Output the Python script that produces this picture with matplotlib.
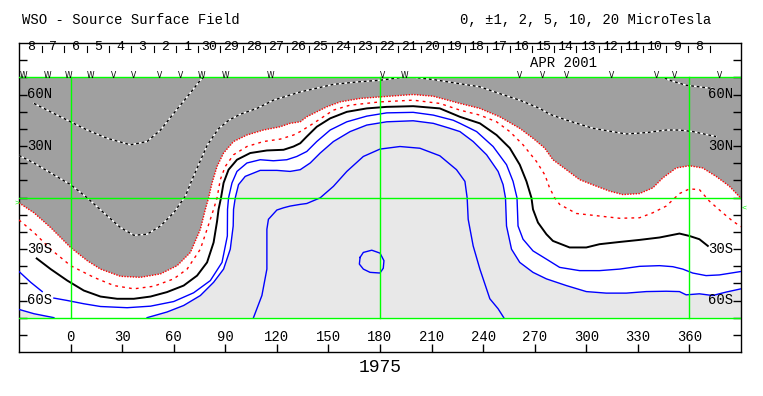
import matplotlib
matplotlib.use("Agg")
import matplotlib.pyplot as plt
from matplotlib.patches import Rectangle, Polygon

# ---------------- data (longitude, latitude) ----------------
# contour -2 uT : boundary of the dark grey (negative) region
neg2 = [(-30, -3.1), (-21.3, -8.9), (-11.6, -17.5), (0, -29.1), (9.7, -36.8), (17.4, -41.7),
        (29.0, -45.9), (40.6, -46.5), (52.3, -44.5), (62, -39.7), (69.7, -32), (75.5, -18.5),
        (78.4, -6.9), (80.3, -0.2), (82.3, 8.5), (85.2, 18.1), (89, 25.9), (94.8, 32.6),
        (102.6, 36.4), (112.2, 39.3), (121.9, 41.2), (127.7, 43.2), (133.6, 44.1), (137.4, 47),
        (149, 52.8), (156.8, 55.7), (168.4, 57.7), (180, 58.6), (199.3, 60), (211, 59),
        (226.5, 54.8), (238.1, 51.9), (249.7, 47), (261.3, 40.3), (269, 34.5), (275.8, 28.8),
        (280.6, 22), (288.4, 16.2), (296.1, 10.4), (305.8, 6.6), (313.6, 3.7), (321.3, 1.7),
        (331, 2.3), (338.7, 5.6), (344.5, 11.4), (352.3, 17.2), (360, 18.5), (367.7, 17.2),
        (375.5, 12.3), (383.2, 6.6), (390, -0.5)]

# contour -1 uT
neg1 = [(-30, -13.1), (-21.3, -20.4), (-11.6, -30.1), (0, -39.7), (13.5, -46.5), (25.2, -51.3),
        (36.8, -53.2), (48.4, -51.7), (60, -47.4), (67.8, -41.7), (75.5, -30.1), (79.4, -18.5),
        (83.2, -6.9), (85.2, -0.2), (87.1, 10.4), (90, 18.1), (94.8, 24.9), (102.6, 29.7),
        (112.2, 32.6), (121.9, 34), (129.7, 36.4), (133.6, 38.4), (141.3, 43.2), (152.9, 50.9),
        (162.6, 53.8), (180, 55.7), (199.3, 56.7), (214.8, 54.8), (226.5, 50.9), (238.1, 48),
        (247.8, 44.1), (255.5, 38.4), (263.2, 30.7), (271, 21), (276, 13), (278.5, 6),
        (281.5, 0), (284.5, -4), (294.2, -9.3), (307.7, -10.8), (319.4, -12.1), (331, -11.8),
        (338.7, -8.9), (346.5, -5), (354.2, 2.3), (360, 5), (365.8, 4.6), (371.6, -2.1),
        (379.3, -8.9), (385.1, -13.7), (390, -17)]

# neutral line (0 uT)
zero = [(-19.7, -35.5), (-11.6, -41.7), (-1.9, -48.4), (7.7, -54.2), (17.4, -57.7), (27.1, -59),
        (36.8, -59), (46.5, -57.7), (56.1, -55.1), (65.8, -51.3), (73.6, -45.5), (79.4, -37.8),
        (83.2, -26.2), (85.2, -14), (86.1, -6.9), (87.5, -0.2), (89, 8.5), (91.9, 16.2),
        (96.8, 22), (104.5, 25.9), (114.2, 27.4), (123.9, 27.8), (129.7, 29.7), (133.6, 31.6),
        (137.4, 35.5), (143.2, 41.2), (151, 46.1), (160.7, 49.9), (172.3, 51.9), (183.9, 52.8),
        (199.3, 53.2), (214.8, 51.9), (226.5, 47), (238.1, 43.2), (247.8, 36.4), (255.5, 28.8),
        (261.3, 19.1), (265.2, 9.4), (268.1, -0.2), (269, -6.9), (271.9, -14.6), (276.8, -21.4),
        (280.6, -25.3), (290.3, -29.1), (300, -29.1), (307.7, -27.2), (319.4, -25.9),
        (331, -24.7), (342.6, -23.3), (354.2, -21), (360, -22.4), (365.8, -24.3), (370.7, -28.2)]

# contour +1 uT (two visible pieces)
pos1_a = [(-30, -43.1), (-23.2, -49.4), (-16.5, -54.8)]
pos1_b = [(-9.7, -58.6), (-1.9, -60), (7.7, -61.9), (17.4, -63.5), (32.9, -64.2), (46.5, -63.3),
          (60, -60.6), (71.6, -55.5), (81.3, -48.4), (88.1, -37.8), (91.2, -22.4), (91.3, -6.9),
          (91.9, -0.2), (93.9, 8.5), (96.8, 15.2), (102.6, 20.1), (110.3, 22), (118, 21.4),
          (125.8, 22), (131.6, 23.9), (137.4, 26.8), (143.2, 32.6), (151, 39.3), (160.7, 44.1),
          (172.3, 47.4), (183.9, 49.3), (199.3, 49.6), (211, 48), (222.6, 45), (226.5, 43.2),
          (236.2, 38.4), (245.8, 29.7), (253.6, 19.1), (257.4, 9.4), (259.7, -0.2),
          (260.3, -16.6), (263.2, -24.3), (269, -31.1), (276.8, -35.9), (284.5, -40.7),
          (296.1, -42.6), (307.7, -42.6), (319.4, -41.7), (331, -40.1), (342.6, -39.7),
          (350.3, -40.3), (356.1, -41.7), (361.9, -44), (369.7, -45.5), (377.4, -45.1), (390, -43.1)]

# contour +2 uT : boundary of the light grey (positive) region
pos2_a = [(-30, -65.2), (-21.3, -67.7), (-9.7, -70)]
pos2_b = [(44.5, -70), (56.1, -66.7), (65.8, -62.9), (75.5, -57.1), (83.2, -49.4), (89, -41.7),
          (92.9, -30.1), (94.6, -16.6), (94.8, -6.9), (95.8, -0.2), (97.7, 7.5), (101.6, 12.3),
          (110.3, 15.8), (120, 15.8), (127.7, 15.2), (133.6, 16.2), (139.4, 20.1), (145.2, 25.9),
          (152.9, 32.6), (162.6, 38.4), (172.3, 42.2), (183.9, 44.1), (199.3, 44.7), (211, 43.2),
          (220, 40.5), (226.5, 38.4), (234.2, 32.6), (242, 24.9), (248.7, 15.2), (251.6, 7.5),
          (253, -0.2), (253.6, -16.6), (256.5, -30.1), (261.3, -37.8), (269, -43.6),
          (276.8, -47.4), (288.4, -51.3), (300, -54.8), (311.6, -55.7), (323.3, -55.7),
          (334.9, -54.8), (346.5, -54.6), (354.2, -54.8), (358.1, -56.7), (365.8, -56.1),
          (373.5, -57.1), (381.3, -55.1), (390, -53.2)]

# contour +5 uT
pos5 = [(106.4, -70), (111.3, -57.1), (114.2, -41.7), (114.2, -18.5), (115.1, -12.7), (120, -7.3),
        (123.9, -6), (127.7, -5), (133.6, -4), (137.4, -3.5), (145.2, -0.2), (152.9, 6.5),
        (160.7, 15.2), (170.3, 23.9), (180, 28.2), (191.6, 29.7), (203.2, 28.7), (214.8, 24.3),
        (224.5, 16.2), (229.4, 9.4), (230.7, -0.2), (231.3, -12.7), (234.2, -28.2),
        (238.1, -41.7), (243.9, -59), (248.7, -64.8), (252, -70)]

# contour +10 uT (small closed loop)
pos10 = [(168.4, -34.9), (170.3, -32), (175.2, -30.7), (180, -32.4), (182.3, -36.8),
         (181.9, -41.2), (180, -44), (174.2, -43.6), (170.3, -41.7), (168, -38.8), (168.4, -34.9)]

# contour -5 uT
neg5 = [(-30, 24.5), (-21.3, 20.1), (-11.6, 14.3), (0, 7.5), (9.7, -0.2), (19.3, -8.9),
        (29, -17.5), (36.8, -22), (44.5, -21.4), (52.3, -16.6), (60, -8.9), (66.8, 0.8),
        (70.5, 10), (74, 18), (79.5, 30.5), (86, 40), (92, 45), (98.7, 48.5), (108.4, 51.9),
        (118, 56.7), (133.6, 61.5), (152.9, 65.9), (166.5, 67.3), (180, 68.3), (195.5, 70.3),
        (198, 71.5), (201.3, 69.8), (211, 68.7), (225, 66.5), (238, 64.5), (249.7, 60.5),
        (261.3, 56.7), (272.9, 51.9), (278.7, 48.5), (288.4, 45.1), (303.9, 40.3), (323.3, 37),
        (334.9, 37.8), (346.5, 39.3), (354.2, 39.3), (361.9, 38.4), (375.5, 35.5)]

# contour -10 uT (two pieces)
neg10_a = [(-21.3, 54.8), (-11.6, 49.9), (0, 44.1), (9.7, 39.3), (21.3, 34.5), (34.8, 30.7),
           (44.5, 32.6), (52.3, 39.3), (60, 49), (67.8, 58.6), (75.5, 68.3), (78.4, 71)]
neg10_b = [(343, 71.5), (344.5, 70.2), (348.4, 68.3), (358.1, 65.4), (373.5, 63.5)]

# axis labels / annotations
lon_ticks = [0, 30, 60, 90, 120, 150, 180, 210, 240, 270, 300, 330, 360]
lat_ticks = [-80, -70, -60, -50, -40, -30, -20, -10, 0, 10, 20, 30, 40, 50, 60, 70, 80]
lat_labels = {60: "60N", 30: "30N", -30: "30S", -60: "60S"}
day_labels = ["8", "7", "6", "5", "4", "3", "2", "1", "30", "29", "28", "27", "26", "25", "24",
              "23", "22", "21", "20", "19", "18", "17", "16", "15", "14", "13", "12", "11",
              "10", "9", "8"]
day_first_sep = -16.5      # longitude of first day boundary
day_step = 12.95           # degrees per day
obs_lon = [-27.3, -13.4, -1.2, 11.6, 25.0, 36.6, 51.7, 63.9, 76.1, 90.0, 116.1, 181.7, 194.5,
           261.3, 274.6, 288.6, 314.7, 340.9, 351.3, 377.4]
obs_mark = ["W", "W", "W", "W", "V", "V", "V", "V", "W", "W", "W", "V", "W",
            "V", "V", "V", "V", "V", "V", "V"]
earth_lat_left = -3.5
earth_lat_right = -6.0

# ---------------- drawing ----------------
DARK = "#a0a0a0"
LIGHT = "#e8e8e8"
GREEN = "#00ff00"
MONO = "Liberation Mono"

fig = plt.figure(figsize=(7.63, 3.96), dpi=100)
ax = fig.add_axes([19 / 763, (396 - 352) / 396, (741 - 19) / 763, (352 - 43) / 396])
ax.set_xlim(-30, 390)
ax.set_ylim(-90, 90)
for s in ax.spines.values():
    s.set_linewidth(1.0)
    s.set_color("black")

clip = Rectangle((-30, -70), 420, 140, transform=ax.transData, visible=False)
ax.add_patch(clip)

# fills
dark_poly = neg2 + [(390, 70), (-30, 70)]
ax.add_patch(Polygon(dark_poly, closed=True, facecolor=DARK, edgecolor="none", zorder=1))
ax.add_patch(Polygon(pos2_a + [(-30, -70)], closed=True, facecolor=LIGHT, edgecolor="none", zorder=1))
ax.add_patch(Polygon(pos2_b + [(390, -70)], closed=True, facecolor=LIGHT, edgecolor="none", zorder=1))


def draw(pts, **kw):
    xs = [p[0] for p in pts]
    ys = [p[1] for p in pts]
    ln, = ax.plot(xs, ys, **kw)
    ln.set_clip_path(clip)
    return ln


# negative contours in dark grey: white/black dashes
for seg in (neg5, neg10_a, neg10_b):
    draw(seg, color="white", lw=1.0, zorder=3)
    draw(seg, color="black", lw=1.0, linestyle=(0, (2, 2)), zorder=3.1)

draw(neg2, color="red", lw=1.0, linestyle=(0, (1, 1)), zorder=3)
draw(neg1, color="red", lw=1.0, linestyle=(0, (2, 3)), zorder=3)
draw(zero, color="black", lw=1.4, zorder=3)
for seg in (pos1_a, pos1_b, pos2_a, pos2_b, pos5, pos10):
    draw(seg, color="#0000ff", lw=1.0, zorder=3)

# green reference lines
ax.plot([-30, 390], [0, 0], color=GREEN, lw=1.0, zorder=4)
ax.plot([-30, 390], [70, 70], color=GREEN, lw=1.0, zorder=4)
ax.plot([-30, 390], [-70, -70], color=GREEN, lw=1.0, zorder=4)
for lx in (0, 180, 360):
    ax.plot([lx, lx], [-70, 70], color=GREEN, lw=1.0, zorder=4)

# ticks
ax.set_xticks(lon_ticks)
ax.set_yticks(lat_ticks)
ax.tick_params(axis="x", direction="in", length=5.5, width=1, bottom=True, top=False,
               labelbottom=False)
ax.tick_params(axis="y", direction="in", length=5.5, width=1, left=True, right=True,
               labelleft=False)

for lx in lon_ticks:
    ax.text(lx, -81.2, str(lx), ha="center", va="center", fontsize=10, family=MONO, zorder=5)

for la, lab in lat_labels.items():
    ax.text(-25.4, la, lab, ha="left", va="center", fontsize=10, family=MONO, zorder=5)
    ax.text(385.4, la, lab, ha="right", va="center", fontsize=10, family=MONO, zorder=5)

# day row at top
for i, lab in enumerate(day_labels):
    c = day_first_sep + (i - 0.5) * day_step
    ax.text(c, 87.4, lab, ha="center", va="center", fontsize=9.5, family=MONO, zorder=5)
for i in range(len(day_labels)):
    sx = day_first_sep + i * day_step
    if sx < 390:
        ax.plot([sx, sx], [84.6, 88.4], color="black", lw=0.8, zorder=5)

ax.text(286.5, 78.5, "APR 2001", ha="center", va="center", fontsize=10, family=MONO, zorder=5)

for lx, mk in zip(obs_lon, obs_mark):
    ax.text(lx, 71.3, mk, ha="center", va="center", fontsize=5.5, family="DejaVu Sans",
            zorder=5)

# earth latitude markers
ax.text(-30, earth_lat_left, ">", ha="right", va="center", fontsize=6, color=GREEN,
        family=MONO, clip_on=False)
ax.text(390, earth_lat_right, "<", ha="left", va="center", fontsize=6, color=GREEN,
        family=MONO, clip_on=False)

# titles
fig.text(22 / 763, 1 - 20 / 396, "WSO - Source Surface Field", ha="left", va="center",
         fontsize=10, family=MONO)
fig.text(711 / 763, 1 - 20 / 396, "0, \u00b11, 2, 5, 10, 20 MicroTesla", ha="right",
         va="center", fontsize=10, family=MONO)
fig.text(380 / 763, 1 - 367 / 396, "1975", ha="center", va="center", fontsize=13,
         family=MONO)

fig.savefig("out.png", dpi=100)
